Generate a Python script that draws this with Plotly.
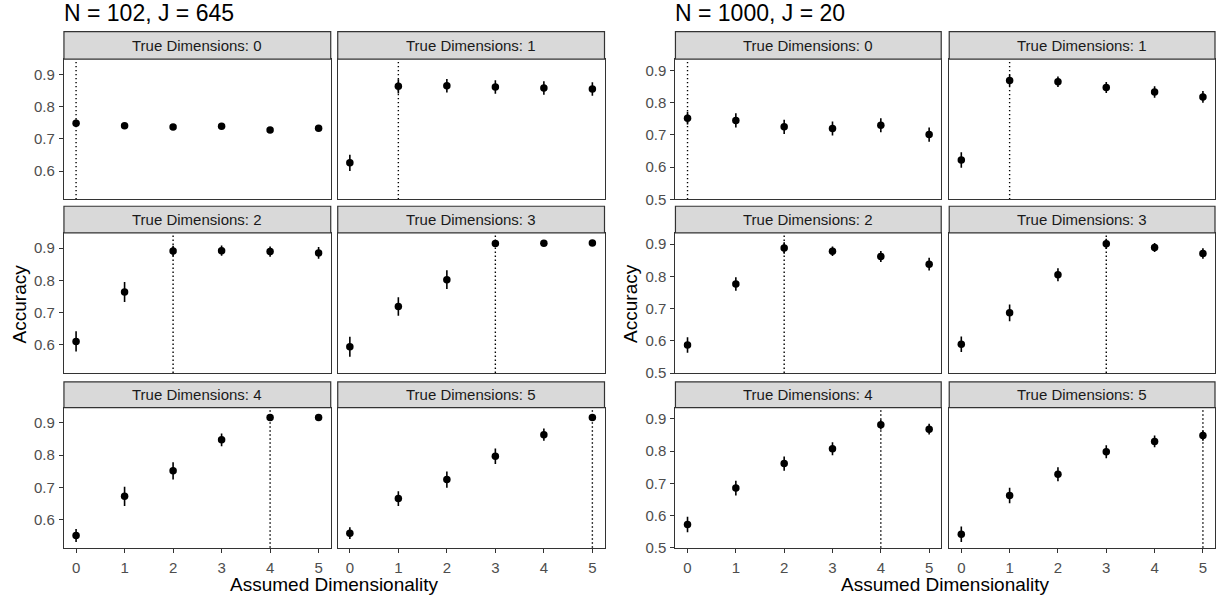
import plotly.graph_objects as go

W, H = 1216, 607

assumed_dims = [0, 1, 2, 3, 4, 5]
true_dims = [0, 1, 2, 3, 4, 5]
x_ticks = [0, 1, 2, 3, 4, 5]
chart_titles = ["N = 102, J = 645", "N = 1000, J = 20"]
strip_prefix = "True Dimensions: "
y_ticks_left = [0.6, 0.7, 0.8, 0.9]
y_ticks_right = [0.5, 0.6, 0.7, 0.8, 0.9]

# N = 102, J = 645
acc_a0 = [0.749, 0.741, 0.737, 0.739, 0.728, 0.733]
acc_a1 = [0.626, 0.863, 0.865, 0.861, 0.858, 0.855]
acc_a2 = [0.611, 0.764, 0.891, 0.892, 0.889, 0.885]
acc_a3 = [0.594, 0.719, 0.802, 0.914, 0.915, 0.916]
acc_a4 = [0.551, 0.672, 0.751, 0.847, 0.916, 0.916]
acc_a5 = [0.558, 0.665, 0.724, 0.796, 0.863, 0.916]
err_a0 = [0.011, 0.008, 0.008, 0.008, 0.008, 0.009]
err_a1 = [0.025, 0.022, 0.021, 0.021, 0.021, 0.021]
err_a2 = [0.031, 0.031, 0.016, 0.016, 0.016, 0.018]
err_a3 = [0.031, 0.029, 0.029, 0.010, 0.008, 0.008]
err_a4 = [0.020, 0.030, 0.027, 0.020, 0.010, 0.008]
err_a5 = [0.018, 0.023, 0.025, 0.024, 0.019, 0.010]

# N = 1000, J = 20
acc_b0 = [0.752, 0.745, 0.725, 0.720, 0.730, 0.701]
acc_b1 = [0.622, 0.869, 0.865, 0.847, 0.833, 0.818]
acc_b2 = [0.587, 0.776, 0.888, 0.878, 0.862, 0.838]
acc_b3 = [0.589, 0.687, 0.805, 0.901, 0.890, 0.871]
acc_b4 = [0.572, 0.685, 0.761, 0.807, 0.882, 0.868]
acc_b5 = [0.542, 0.662, 0.728, 0.798, 0.830, 0.848]
err_b0 = [0.020, 0.022, 0.022, 0.022, 0.022, 0.022]
err_b1 = [0.024, 0.018, 0.016, 0.017, 0.018, 0.018]
err_b2 = [0.024, 0.021, 0.018, 0.015, 0.017, 0.020]
err_b3 = [0.024, 0.026, 0.020, 0.016, 0.014, 0.016]
err_b4 = [0.024, 0.023, 0.022, 0.020, 0.015, 0.017]
err_b5 = [0.024, 0.024, 0.022, 0.020, 0.018, 0.016]

charts = [
    dict(acc=[acc_a0, acc_a1, acc_a2, acc_a3, acc_a4, acc_a5],
         err=[err_a0, err_a1, err_a2, err_a3, err_a4, err_a5],
         yticks=y_ticks_left, yrange=[0.513, 0.947],
         cols=[(64, 331), (338, 605)], title=chart_titles[0], ytitle_x=19),
    dict(acc=[acc_b0, acc_b1, acc_b2, acc_b3, acc_b4, acc_b5],
         err=[err_b0, err_b1, err_b2, err_b3, err_b4, err_b5],
         yticks=y_ticks_right, yrange=[0.5, 0.935],
         cols=[(676, 942), (950, 1216)], title=chart_titles[1], ytitle_x=631),
]

rows = [(60, 202), (236, 378), (413, 555)]
strips = [(32, 60), (209, 236), (387, 413)]

FONT = "Liberation Sans, Arial, Helvetica, sans-serif"
BORDER = "#333333"

fig = go.Figure()
layout = dict(
    width=W, height=H, margin=dict(l=0, r=0, t=0, b=0),
    paper_bgcolor="white", plot_bgcolor="white", showlegend=False,
    font=dict(family=FONT),
)
shapes = []
annotations = []

px = lambda v: v / W
py = lambda v: (H - v) / H

k = 0
for ci, ch in enumerate(charts):
    for di, d in enumerate(true_dims):
        k += 1
        r, c = di // 2, di % 2
        xa = "xaxis" if k == 1 else f"xaxis{k}"
        ya = "yaxis" if k == 1 else f"yaxis{k}"
        xr = "x" if k == 1 else f"x{k}"
        yr = "y" if k == 1 else f"y{k}"
        x0, x1 = ch["cols"][c]
        top, bot = rows[r]
        bottom_row = (r == 2)
        left_col = (c == 0)
        layout[xa] = dict(
            domain=[px(x0), px(x1)], anchor=yr, range=[-0.25, 5.25],
            tickvals=x_ticks, ticktext=[str(t) for t in x_ticks],
            showticklabels=bottom_row, ticks="outside" if bottom_row else "",
            ticklen=4, tickwidth=1.1, tickcolor=BORDER, ticklabelstandoff=2,
            tickfont=dict(size=15, color="#4D4D4D", family=FONT),
            showgrid=False, zeroline=False, showline=True, mirror=True,
            linecolor=BORDER, linewidth=1.2, fixedrange=True,
        )
        layout[ya] = dict(
            domain=[py(bot), py(top)], anchor=xr, range=ch["yrange"],
            tickvals=ch["yticks"], ticktext=[f"{t:.1f}" for t in ch["yticks"]],
            showticklabels=left_col, ticks="outside" if left_col else "",
            ticklen=4, tickwidth=1.1, tickcolor=BORDER, ticklabelstandoff=1,
            tickfont=dict(size=15, color="#4D4D4D", family=FONT),
            showgrid=False, zeroline=False, showline=True, mirror=True,
            linecolor=BORDER, linewidth=1.2, fixedrange=True,
        )
        # dotted reference line at the true dimensionality
        shapes.append(dict(
            type="line", xref=xr, yref=f"{yr} domain", x0=d, x1=d, y0=0, y1=1,
            line=dict(color="black", width=1.4, dash="1.4px,2.6px"), layer="below",
        ))
        fig.add_trace(go.Scatter(
            x=assumed_dims, y=ch["acc"][di], xaxis=xr, yaxis=yr, mode="markers",
            marker=dict(color="black", size=7.5),
            error_y=dict(type="data", array=ch["err"][di], visible=True,
                         color="black", thickness=1.6, width=0),
            hoverinfo="x+y",
        ))
        # strip
        s0, s1 = strips[r]
        shapes.append(dict(
            type="rect", xref="paper", yref="paper",
            x0=px(x0), x1=px(x1), y0=py(s1), y1=py(s0),
            fillcolor="#D9D9D9", line=dict(color=BORDER, width=1.2), layer="above",
        ))
        annotations.append(dict(
            xref="paper", yref="paper", x=px((x0 + x1) / 2), y=py((s0 + s1) / 2),
            text=f"{strip_prefix}{d}", showarrow=False, xanchor="center", yanchor="middle",
            font=dict(size=15, color="#1A1A1A", family=FONT),
        ))
    # chart title
    annotations.append(dict(
        xref="paper", yref="paper", x=px(ch["cols"][0][0] - 2), y=py(13.5),
        text=ch["title"], showarrow=False, xanchor="left", yanchor="middle",
        font=dict(size=23, color="black", family=FONT),
    ))
    # axis titles
    annotations.append(dict(
        xref="paper", yref="paper", x=px((ch["cols"][0][0] + ch["cols"][1][1]) / 2), y=py(592),
        text="Assumed Dimensionality", showarrow=False, xanchor="center", yanchor="middle",
        font=dict(size=19, color="black", family=FONT),
    ))
    annotations.append(dict(
        xref="paper", yref="paper", x=px(ch["ytitle_x"]), y=py(307.5),
        text="Accuracy", showarrow=False, xanchor="center", yanchor="middle", textangle=-90,
        font=dict(size=19, color="black", family=FONT),
    ))

layout["shapes"] = shapes
layout["annotations"] = annotations
fig.update_layout(**layout)
fig.write_html("out.html")
